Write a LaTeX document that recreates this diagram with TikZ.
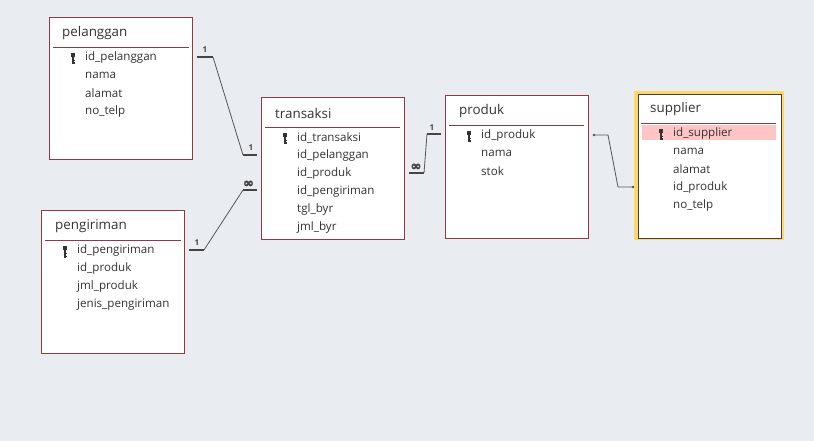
\documentclass[tikz,border=0pt]{standalone}
\usepackage{fontspec}
\setmainfont{Open Sans}
\newfontfamily\inffont[FakeBold=2.5]{DejaVu Sans Bold}
\definecolor{bg}{HTML}{E9ECF0}
\definecolor{boxline}{HTML}{8E3A3E}
\definecolor{txt}{HTML}{333333}
\definecolor{rel}{HTML}{555555}
\definecolor{hl}{HTML}{FFC4C4}
\definecolor{sel}{HTML}{FFD66B}
\tikzset{
  tbl/.style={draw=boxline, fill=white, line width=0.9pt, anchor=north west, inner sep=0pt},
  ttl/.style={anchor=west, text=txt, font=\fontsize{13.4}{15}\selectfont, inner sep=0pt},
  fld/.style={anchor=west, text=txt, font=\fontsize{11.6}{13}\selectfont, inner sep=0pt},
  sepline/.style={draw=boxline, line width=0.8pt},
  relbar/.style={draw=rel!80!black, line width=2.8pt},
  relline/.style={draw=rel, line width=0.8pt},
  card/.style={text=rel!80!black, font=\fontsize{8}{9}\selectfont\bfseries, inner sep=0pt},
  inf/.style={text=rel!80!black, font=\inffont\fontsize{13}{13}\selectfont, inner sep=0pt},
  keyic/.pic={
    \fill[txt] (-1.8,-4) rectangle (1.8,0);
    \fill[txt] (-0.7,0) rectangle (0.7,7.5);
    \fill[txt] (0.7,3) rectangle (2.2,4.2);
    \fill[txt] (0.7,5.5) rectangle (2,6.6);
  }
}
\begin{document}
\begin{tikzpicture}[x=1pt,y=-1pt]
\fill[bg] (0,0) rectangle (814,441);
\useasboundingbox (0,0) rectangle (814,441);

% pelanggan
\node[tbl, minimum width=143pt, minimum height=142pt] (pel) at (49,17) {};
\node[ttl] (pelT) at (62,33) {pelanggan};
\draw[sepline] (53,47) -- (189,47);
\pic at (73,57) {keyic};
\node[fld] (pel1) at (85,57.5) {id\_pelanggan};
\node[fld] (pel2) at (85,75.5) {nama};
\node[fld] (pel3) at (85,93.5) {alamat};
\node[fld] (pel4) at (85,111.5) {no\_telp};

% pengiriman
\node[tbl, minimum width=143pt, minimum height=143pt] (pen) at (41,210) {};
\node[ttl] (penT) at (55,226) {pengiriman};
\draw[sepline] (45,240) -- (181,240);
\pic at (65,250) {keyic};
\node[fld] (pen1) at (77,250.5) {id\_pengiriman};
\node[fld] (pen2) at (77,268.5) {id\_produk};
\node[fld] (pen3) at (77,286.5) {jml\_produk};
\node[fld] (pen4) at (77,304.5) {jenis\_pengiriman};

% transaksi
\node[tbl, minimum width=143pt, minimum height=142pt] (tra) at (261,97) {};
\node[ttl] (traT) at (275,113) {transaksi};
\draw[sepline] (265,127) -- (400,127);
\pic at (285,137) {keyic};
\node[fld] (tra1) at (297,137.5) {id\_transaksi};
\node[fld] (tra2) at (297,155.5) {id\_pelanggan};
\node[fld] (tra3) at (297,173.5) {id\_produk};
\node[fld] (tra4) at (297,191.5) {id\_pengiriman};
\node[fld] (tra5) at (297,209.5) {tgl\_byr};
\node[fld] (tra6) at (297,227.5) {jml\_byr};

% produk
\node[tbl, minimum width=143pt, minimum height=143pt] (pro) at (445,95) {};
\node[ttl] (proT) at (459,111) {produk};
\draw[sepline] (449,125) -- (584,125);
\pic at (469,135) {keyic};
\node[fld] (pro1) at (481,135.5) {id\_produk};
\node[fld] (pro2) at (481,153.5) {nama};
\node[fld] (pro3) at (481,171.5) {stok};

% supplier (selected)
\fill[sel] (634,91) rectangle (784,240);
\node[tbl, draw=black!75, line width=0.8pt, minimum width=143pt, minimum height=143pt] (sup) at (637.5,94.5) {};
\node[ttl] (supT) at (650,109) {supplier};
\draw[sepline] (641,123) -- (776,123);
\fill[hl] (642,125.5) rectangle (776,140.5);
\pic at (661,133) {keyic};
\node[fld] (sup1) at (673,133.5) {id\_supplier};
\node[fld] (sup2) at (673,151.5) {nama};
\node[fld] (sup3) at (673,169.5) {alamat};
\node[fld] (sup4) at (673,187.5) {id\_produk};
\node[fld] (sup5) at (673,205.5) {no\_telp};

% relationship pelanggan - transaksi
\coordinate (r1a) at (197,57);
\coordinate (r1b) at (213,57);
\coordinate (r1c) at (243,155);
\coordinate (r1d) at (257,155);
\draw[relbar] (r1a) -- (r1b);
\draw[relbar] (r1c) -- (r1d);
\draw[relline] (r1b) -- (r1c);
\node[card] (c1a) at (205,50) {1};
\node[card] (c1b) at (251,148) {1};

% relationship pengiriman - transaksi
\coordinate (r2a) at (189,250);
\coordinate (r2b) at (204,250);
\coordinate (r2c) at (243,190);
\coordinate (r2d) at (257,190);
\draw[relbar] (r2a) -- (r2b);
\draw[relbar] (r2c) -- (r2d);
\draw[relline] (r2b) -- (r2c);
\node[card] (c2a) at (197,243) {1};
\node[inf] (c2b) at (248.5,184) {∞};

% relationship transaksi - produk
\coordinate (r3a) at (409,173);
\coordinate (r3b) at (424,173);
\coordinate (r3c) at (427,134);
\coordinate (r3d) at (441,134);
\draw[relbar] (r3a) -- (r3b);
\draw[relbar] (r3c) -- (r3d);
\draw[relline] (r3b) -- (r3c);
\node[inf] (c3a) at (416,167) {∞};
\node[card] (c3b) at (432,128) {1};

% relationship produk - supplier
\coordinate (r4a) at (594,135);
\coordinate (r4b) at (608,135);
\coordinate (r4c) at (618,187);
\coordinate (r4d) at (633,187);
\draw[relline] (r4a) -- (r4b) -- (r4c) -- (r4d);
\fill[rel] (r4a) circle (1.3);
\fill[rel] (r4d) circle (1.3);
\end{tikzpicture}
\end{document}
